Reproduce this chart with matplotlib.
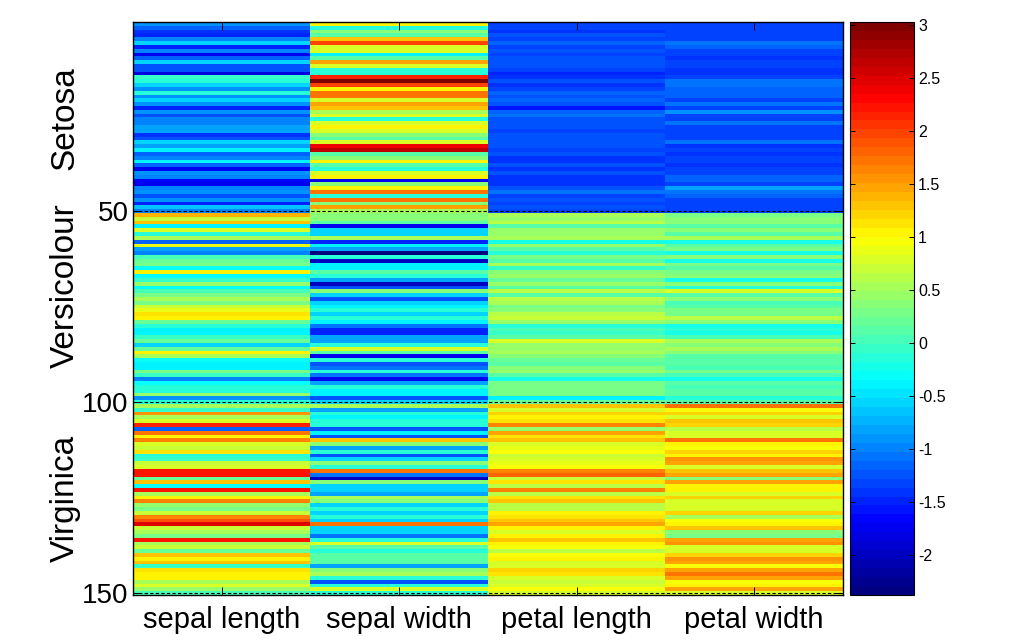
import numpy as np
import matplotlib
matplotlib.use("Agg")
import matplotlib.pyplot as plt
from matplotlib.colors import LinearSegmentedColormap

plt.rcParams['font.family'] = ['Liberation Sans', 'DejaVu Sans']

feature_names = ['sepal length', 'sepal width', 'petal length', 'petal width']
class_names = ['Setosa', 'Versicolour', 'Virginica']
row_ticks = [50, 100, 150]
colorbar_ticks = [-2, -1.5, -1, -0.5, 0, 0.5, 1, 1.5, 2, 2.5, 3]
colorbar_labels = ['-2', '-1.5', '-1', '-0.5', '0', '0.5', '1', '1.5', '2', '2.5', '3']

sepal_length = [5.1,4.9,4.7,4.6,5.0,5.4,4.6,5.0,4.4,4.9,5.4,4.8,4.8,4.3,5.8,5.7,5.4,5.1,5.7,5.1,
                5.4,5.1,4.6,5.1,4.8,5.0,5.0,5.2,5.2,4.7,4.8,5.4,5.2,5.5,4.9,5.0,5.5,4.9,4.4,5.1,
                5.0,4.5,4.4,5.0,5.1,4.8,5.1,4.6,5.3,5.0,
                7.0,6.4,6.9,5.5,6.5,5.7,6.3,4.9,6.6,5.2,5.0,5.9,6.0,6.1,5.6,6.7,5.6,5.8,6.2,5.6,
                5.9,6.1,6.3,6.1,6.4,6.6,6.8,6.7,6.0,5.7,5.5,5.5,5.8,6.0,5.4,6.0,6.7,6.3,5.6,5.5,
                5.5,6.1,5.8,5.0,5.6,5.7,5.7,6.2,5.1,5.7,
                6.3,5.8,7.1,6.3,6.5,7.6,4.9,7.3,6.7,7.2,6.5,6.4,6.8,5.7,5.8,6.4,6.5,7.7,7.7,6.0,
                6.9,5.6,7.7,6.3,6.7,7.2,6.2,6.1,6.4,7.2,7.4,7.9,6.4,6.3,6.1,7.7,6.3,6.4,6.0,6.9,
                6.7,6.9,5.8,6.8,6.7,6.7,6.3,6.5,6.2,5.9]
sepal_width = [3.5,3.0,3.2,3.1,3.6,3.9,3.4,3.4,2.9,3.1,3.7,3.4,3.0,3.0,4.0,4.4,3.9,3.5,3.8,3.8,
               3.4,3.7,3.6,3.3,3.4,3.0,3.4,3.5,3.4,3.2,3.1,3.4,4.1,4.2,3.1,3.2,3.5,3.1,3.0,3.4,
               3.5,2.3,3.2,3.5,3.8,3.0,3.8,3.2,3.7,3.3,
               3.2,3.2,3.1,2.3,2.8,2.8,3.3,2.4,2.9,2.7,2.0,3.0,2.2,2.9,2.9,3.1,3.0,2.7,2.2,2.5,
               3.2,2.8,2.5,2.8,2.9,3.0,2.8,3.0,2.9,2.6,2.4,2.4,2.7,2.7,3.0,3.4,3.1,2.3,3.0,2.5,
               2.6,3.0,2.6,2.3,2.7,3.0,2.9,2.9,2.5,2.8,
               3.3,2.7,3.0,2.9,3.0,3.0,2.5,2.9,2.5,3.6,3.2,2.7,3.0,2.5,2.8,3.2,3.0,3.8,2.6,2.2,
               3.2,2.8,2.8,2.7,3.3,3.2,2.8,3.0,2.8,3.0,2.8,3.8,2.8,2.8,2.6,3.0,3.4,3.1,3.0,3.1,
               3.1,3.1,2.7,3.2,3.3,3.0,2.5,3.0,3.4,3.0]
petal_length = [1.4,1.4,1.3,1.5,1.4,1.7,1.4,1.5,1.4,1.5,1.5,1.6,1.4,1.1,1.2,1.5,1.3,1.4,1.7,1.5,
                1.7,1.5,1.0,1.7,1.9,1.6,1.6,1.5,1.4,1.6,1.6,1.5,1.5,1.4,1.5,1.2,1.3,1.5,1.3,1.5,
                1.3,1.3,1.3,1.6,1.9,1.4,1.6,1.4,1.5,1.4,
                4.7,4.5,4.9,4.0,4.6,4.5,4.7,3.3,4.6,3.9,3.5,4.2,4.0,4.7,3.6,4.4,4.5,4.1,4.5,3.9,
                4.8,4.0,4.9,4.7,4.3,4.4,4.8,5.0,4.5,3.5,3.8,3.7,3.9,5.1,4.5,4.5,4.7,4.4,4.1,4.0,
                4.4,4.6,4.0,3.3,4.2,4.2,4.2,4.3,3.0,4.1,
                6.0,5.1,5.9,5.6,5.8,6.6,4.5,6.3,5.8,6.1,5.1,5.3,5.5,5.0,5.1,5.3,5.5,6.7,6.9,5.0,
                5.7,4.9,6.7,4.9,5.7,6.0,4.8,4.9,5.6,5.8,6.1,6.4,5.6,5.1,5.6,6.1,5.6,5.5,4.8,5.4,
                5.6,5.1,5.1,5.9,5.7,5.2,5.0,5.2,5.4,5.1]
petal_width = [0.2,0.2,0.2,0.2,0.2,0.4,0.3,0.2,0.2,0.1,0.2,0.2,0.1,0.1,0.2,0.4,0.4,0.3,0.3,0.3,
               0.2,0.4,0.2,0.5,0.2,0.2,0.4,0.2,0.2,0.2,0.2,0.4,0.1,0.2,0.1,0.2,0.2,0.1,0.2,0.2,
               0.3,0.3,0.2,0.6,0.4,0.3,0.2,0.2,0.2,0.2,
               1.4,1.5,1.5,1.3,1.5,1.3,1.6,1.0,1.3,1.4,1.0,1.5,1.0,1.4,1.3,1.4,1.5,1.0,1.5,1.1,
               1.8,1.3,1.5,1.2,1.3,1.4,1.4,1.7,1.5,1.0,1.1,1.0,1.2,1.6,1.5,1.6,1.5,1.3,1.3,1.3,
               1.2,1.4,1.2,1.0,1.3,1.2,1.3,1.3,1.1,1.3,
               2.5,1.9,2.1,1.8,2.2,2.1,1.7,1.8,1.8,2.5,2.0,1.9,2.1,2.0,2.4,2.3,1.8,2.2,2.3,1.5,
               2.3,2.0,2.0,1.8,2.1,1.8,1.8,1.8,2.1,1.6,1.9,2.0,2.2,1.5,1.4,2.3,2.4,1.8,1.8,2.1,
               2.4,2.3,1.9,2.3,2.5,2.3,1.9,2.0,2.3,1.8]

# columns are shown as z-scores
X = np.array([sepal_length, sepal_width, petal_length, petal_width]).T
Z = (X - X.mean(axis=0)) / X.std(axis=0, ddof=1)

# matlab style jet, yellow sits at 5/8
matlab_jet = LinearSegmentedColormap.from_list('matlab_jet', [
    (0.0, (0, 0, 0.5)), (0.125, (0, 0, 1)), (0.375, (0, 1, 1)),
    (0.625, (1, 1, 0)), (0.875, (1, 0, 0)), (1.0, (0.5, 0, 0))], N=64)

W, H = 1024, 640
fig = plt.figure(figsize=(W / 100, H / 100), dpi=100)
ax = fig.add_axes([133 / W, 1 - 595 / H, 710 / W, 573 / H])
cax = fig.add_axes([850 / W, 1 - 595 / H, 64 / W, 573 / H])

im = ax.imshow(Z, aspect='auto', interpolation='nearest', cmap=matlab_jet,
               vmin=-2.38, vmax=3.03, extent=(0.5, 4.5, 150.5, 0.5))

for r in row_ticks:
    ax.axhline(r, color='black', lw=0.8, ls=(0, (3, 2)))

ax.set_xticks(range(1, 5))
ax.set_xticklabels(feature_names, fontsize=21)
ax.set_yticks(row_ticks)
ax.set_yticklabels([str(r) for r in row_ticks], fontsize=20)
ax.tick_params(direction='in', length=5.5, width=0.7, top=True, right=True)
ax.tick_params(axis='x', pad=8)
ax.tick_params(axis='y', pad=3)
for s in ax.spines.values():
    s.set_linewidth(1.0)

for name, y_px in zip(class_names, [118, 286, 498]):
    fig.text(65 / W, 1 - y_px / H, name, rotation=90, fontsize=24, ha='center', va='center')

cb = fig.colorbar(im, cax=cax)
cb.set_ticks(colorbar_ticks)
cb.set_ticklabels(colorbar_labels)
cb.minorticks_off()
cax.tick_params(direction='in', length=3.5, width=0.7, left=True, right=True, labelsize=11.5, pad=3)

fig.savefig('out.png', dpi=100)
